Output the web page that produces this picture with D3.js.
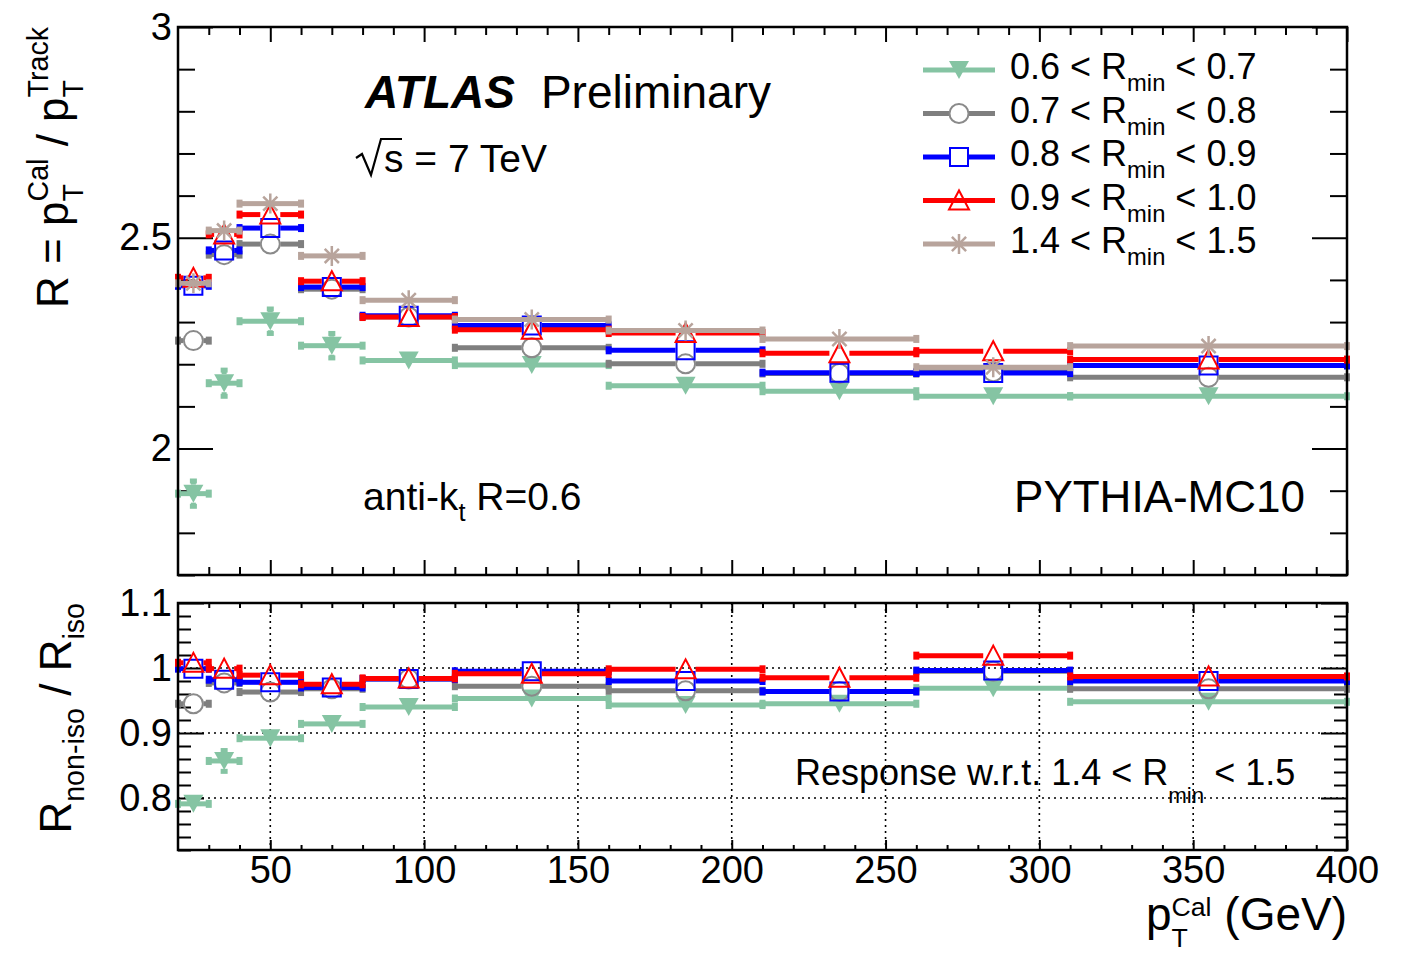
<!DOCTYPE html>
<html>
<head>
<meta charset="utf-8">
<script src="https://cdn.jsdelivr.net/npm/d3@7"></script>
<style>
  body { margin: 0; background: #fff; }
  svg { display: block; }
  text { font-family: "Liberation Sans", Arial, Helvetica, sans-serif; fill: #000; white-space: pre; }
</style>
</head>
<body>
<svg id="chart" width="1408" height="953"></svg>
<script>
// ---- binning in calorimeter jet pT (GeV) ----
const binEdges   = [20, 30, 40, 60, 80, 110, 160, 210, 260, 310, 400];
const binCentres = [25, 35, 50, 70, 95, 135, 185, 235, 285, 355];

// ---- isolation classes (R_min ranges) ----
const rminLow  = ["0.6", "0.7", "0.8", "0.9", "1.4"];
const rminHigh = ["0.7", "0.8", "0.9", "1.0", "1.5"];

// ---- response R = pT(Cal)/pT(Track), one list per isolation class ----
const respR06 = [1.893, 2.155, 2.302, 2.244, 2.209, 2.198, 2.149, 2.136, 2.124, 2.124];
const respR07 = [2.256, 2.460, 2.485, 2.378, 2.312, 2.239, 2.201, 2.178, 2.182, 2.169];
const respR08 = [2.386, 2.470, 2.523, 2.383, 2.315, 2.292, 2.233, 2.180, 2.179, 2.197];
const respR09 = [2.405, 2.508, 2.555, 2.397, 2.312, 2.282, 2.274, 2.226, 2.231, 2.211];
const respR14 = [2.392, 2.517, 2.581, 2.457, 2.352, 2.306, 2.280, 2.260, 2.193, 2.243];

// statistical uncertainties on the response
const respErrR06 = [0.030, 0.031, 0.029, 0.029, 0.020, 0.016, 0.016, 0.016, 0.016, 0.016];
const respErrR07 = [0.018, 0.016, 0.015, 0.014, 0.012, 0.010, 0.010, 0.010, 0.010, 0.010];
const respErrR08 = [0.016, 0.015, 0.014, 0.013, 0.011, 0.009, 0.009, 0.009, 0.009, 0.009];
const respErrR09 = [0.016, 0.015, 0.014, 0.013, 0.011, 0.009, 0.009, 0.009, 0.009, 0.009];
const respErrR14 = [0.016, 0.015, 0.014, 0.013, 0.011, 0.009, 0.009, 0.009, 0.009, 0.009];

// ---- ratio R(non-iso)/R(iso), with 1.4 < R_min < 1.5 as reference ----
const ratioR06 = [0.791, 0.857, 0.892, 0.914, 0.940, 0.953, 0.943, 0.945, 0.969, 0.948];
const ratioR07 = [0.945, 0.977, 0.963, 0.968, 0.983, 0.972, 0.965, 0.964, 0.995, 0.968];
const ratioR08 = [0.999, 0.982, 0.978, 0.970, 0.983, 0.995, 0.980, 0.964, 0.996, 0.980];
const ratioR09 = [1.008, 0.999, 0.989, 0.975, 0.984, 0.991, 0.998, 0.985, 1.019, 0.987];

const ratioErrR06 = [0.012, 0.016, 0.012, 0.010, 0.008, 0.006, 0.006, 0.006, 0.006, 0.006];
const ratioErrR07 = [0.010, 0.008, 0.008, 0.007, 0.006, 0.005, 0.005, 0.005, 0.005, 0.005];
const ratioErrR08 = [0.010, 0.008, 0.008, 0.007, 0.006, 0.005, 0.005, 0.005, 0.005, 0.005];
const ratioErrR09 = [0.010, 0.008, 0.008, 0.007, 0.006, 0.005, 0.005, 0.005, 0.005, 0.005];

// ---- axis ticks ----
const xMajorTicks    = [50, 100, 150, 200, 250, 300, 350, 400];
const yTopMajorTicks = [2, 2.5, 3];
const yBotMajorTicks = [0.8, 0.9, 1, 1.1];
const yBotGridLines  = [0.8, 0.9, 1];
const xGridLines     = [50, 100, 150, 200, 250, 300, 350];

// ---- styles per isolation class ----
const seriesColour = ["#85c4a3", "#7f7f7f", "#0000ff", "#ff0000", "#b8a49c"];
const markerColour = ["#85c4a3", "#8a8a8a", "#0000ff", "#ff0000", "#b8a49c"];
const markerKind   = ["triDown", "circle", "square", "triUp", "star"];

const svg = d3.select("#chart");

// frame geometry
const X0 = 178, X1 = 1347;
const panelTop = { y0: 27, y1: 575 };
const panelBot = { y0: 603, y1: 850 };

const x = d3.scaleLinear().domain([20, 400]).range([X0, X1]);
const yTop = d3.scaleLinear().domain([1.7, 3]).range([panelTop.y1, panelTop.y0]);
const yBot = d3.scaleLinear().domain([0.72, 1.1]).range([panelBot.y1, panelBot.y0]);

const minorX = d3.range(3, 40).map(d => d * 10).filter(d => !xMajorTicks.includes(d));
const minorYTop = d3.range(17, 30).map(d => d / 10).filter(d => !yTopMajorTicks.some(m => Math.abs(m - d) < 1e-9));
const minorYBot = d3.range(36, 55).map(d => d / 50).filter(d => !yBotMajorTicks.some(m => Math.abs(m - d) < 1e-9));

function styleAxis(g, withLabels) {
  g.attr("font-size", null).attr("font-family", null);
  g.select(".domain").remove();
  g.selectAll(".tick line").attr("stroke", "#000").attr("stroke-width", 2);
  if (withLabels) g.selectAll(".tick text").style("font-size", "38px");
}

function drawAxes(panel, yScale, yMajor, yMinor, o) {
  const g = svg.append("g");
  // bottom x
  g.append("g").attr("transform", `translate(0,${panel.y1})`)
    .call(d3.axisBottom(x).tickValues(xMajorTicks).tickSize(-o.xMaj).tickPadding(6)
      .tickFormat(o.xLabels ? d => String(d) : ""))
    .call(s => styleAxis(s, o.xLabels));
  g.append("g").attr("transform", `translate(0,${panel.y1})`)
    .call(d3.axisBottom(x).tickValues(minorX).tickSize(-o.xMin).tickFormat(""))
    .call(s => styleAxis(s, false));
  // top x (mirror)
  g.append("g").attr("transform", `translate(0,${panel.y0})`)
    .call(d3.axisTop(x).tickValues(xMajorTicks).tickSize(-o.xMaj).tickFormat(""))
    .call(s => styleAxis(s, false));
  g.append("g").attr("transform", `translate(0,${panel.y0})`)
    .call(d3.axisTop(x).tickValues(minorX).tickSize(-o.xMin).tickFormat(""))
    .call(s => styleAxis(s, false));
  // left y
  g.append("g").attr("transform", `translate(${X0},0)`)
    .call(d3.axisLeft(yScale).tickValues(yMajor).tickSize(-o.yMaj).tickPadding(6).tickFormat(d => String(d)))
    .call(s => styleAxis(s, true));
  g.append("g").attr("transform", `translate(${X0},0)`)
    .call(d3.axisLeft(yScale).tickValues(yMinor).tickSize(-o.yMin).tickFormat(""))
    .call(s => styleAxis(s, false));
  // right y (mirror)
  g.append("g").attr("transform", `translate(${X1},0)`)
    .call(d3.axisRight(yScale).tickValues(yMajor).tickSize(-o.yMaj).tickFormat(""))
    .call(s => styleAxis(s, false));
  g.append("g").attr("transform", `translate(${X1},0)`)
    .call(d3.axisRight(yScale).tickValues(yMinor).tickSize(-o.yMin).tickFormat(""))
    .call(s => styleAxis(s, false));
}

function markerPath(kind) {
  switch (kind) {
    case "triDown": return "M-10,-9L10,-9L0,9Z";
    case "triUp":   return "M-10,9L10,9L0,-10Z";
    case "square":  return "M-9,-9H9V9H-9Z";
    case "circle":  return "M9.5,0A9.5,9.5 0 1,1 -9.5,0A9.5,9.5 0 1,1 9.5,0Z";
    case "star":    return "M-10,0H10M0,-10V10M-7.1,-7.1L7.1,7.1M-7.1,7.1L7.1,-7.1";
  }
}

function drawMarker(g, kind, colour, cx, cy) {
  const p = g.append("path").attr("d", markerPath(kind)).attr("transform", `translate(${cx},${cy})`);
  if (kind === "triDown") p.attr("fill", colour).attr("stroke", "none");
  else p.attr("fill", "none").attr("stroke", colour).attr("stroke-width", kind === "star" ? 2.5 : 2);
}

function drawSeries(g, yScale, vals, errs, k) {
  const col = seriesColour[k];
  const kind = markerKind[k];
  const gapH = kind === "star" || kind === "triDown" ? 0 : 10;
  const gapV = 9;
  vals.forEach((v, i) => {
    const xa = x(binEdges[i]), xb = x(binEdges[i + 1]), xc = x(binCentres[i]);
    const yc = yScale(v);
    // horizontal bin-width bar, interrupted around the marker
    [[xa, xc - gapH], [xc + gapH, xb]].forEach(([p, q]) => {
      if (q > p) g.append("line").attr("x1", p).attr("x2", q).attr("y1", yc).attr("y2", yc)
        .attr("stroke", col).attr("stroke-width", 5);
    });
    [xa, xb].forEach(ex => g.append("rect").attr("x", ex - 3).attr("y", yc - 4).attr("width", 6).attr("height", 8).attr("fill", col));
    // vertical uncertainty outside the marker
    const dy = yScale(v - errs[i]) - yc;
    if (dy > gapV) {
      [[yc + gapV, yc + dy], [yc - gapV, yc - dy]].forEach(([p, q]) => {
        g.append("line").attr("x1", xc).attr("x2", xc).attr("y1", p).attr("y2", q)
          .attr("stroke", col).attr("stroke-width", 5);
        g.append("rect").attr("x", xc - 3.5).attr("y", q - 2.5).attr("width", 7).attr("height", 5).attr("fill", col);
      });
    }
    drawMarker(g, kind, markerColour[k], xc, yc);
  });
}

// Text laid out piece by piece: plain runs, subscripts and stacked sub/superscripts
function rich(parent, parts, size, anchor, st) {
  const o = Object.assign({ scale: 0.65, sub: 0.33, sup: 0.45 }, st || {});
  const g = parent.append("g");
  let cx = 0;
  parts.forEach(p => {
    if (p.stack) {
      const s = size * o.scale;
      const a = g.append("text").attr("x", cx).attr("y", size * o.sub).style("font-size", s + "px").text(p.sub);
      const b = g.append("text").attr("x", cx).attr("y", -size * o.sup).style("font-size", s + "px").text(p.sup);
      cx += Math.max(a.node().getComputedTextLength(), b.node().getComputedTextLength());
    } else {
      const fs = p.scale ? size * p.scale : size;
      const t = g.append("text").attr("x", cx).attr("y", p.dy ? p.dy : 0)
        .style("font-size", fs + "px").text(p.t);
      if (p.bold) t.style("font-weight", "bold");
      if (p.italic) t.style("font-style", "italic");
      cx += t.node().getComputedTextLength() + (p.after || 0);
    }
  });
  if (anchor === "end") g.selectAll("text").attr("x", function () { return +d3.select(this).attr("x") - cx; });
  return g;
}

// ---- upper panel: response ----
drawAxes(panelTop, yTop, yTopMajorTicks, minorYTop, { xMaj: 15, xMin: 8, yMaj: 35, yMin: 17, xLabels: false });

const gTop = svg.append("g");
const respSeries = [respR06, respR07, respR08, respR09, respR14];
const respErrs = [respErrR06, respErrR07, respErrR08, respErrR09, respErrR14];
respSeries.forEach((vals, k) => drawSeries(gTop, yTop, vals, respErrs[k], k));

// ---- lower panel: ratio to the isolated class ----
const gGrid = svg.append("g").attr("stroke", "#000").attr("stroke-width", 1.6).attr("stroke-dasharray", "2,4");
xGridLines.forEach(v => gGrid.append("line").attr("x1", x(v)).attr("x2", x(v)).attr("y1", panelBot.y0).attr("y2", panelBot.y1));
yBotGridLines.forEach(v => gGrid.append("line").attr("x1", X0).attr("x2", X1).attr("y1", yBot(v)).attr("y2", yBot(v)));

drawAxes(panelBot, yBot, yBotMajorTicks, minorYBot, { xMaj: 10, xMin: 5, yMaj: 26, yMin: 13, xLabels: true });

const gBot = svg.append("g");
const ratioSeries = [ratioR06, ratioR07, ratioR08, ratioR09];
const ratioErrs = [ratioErrR06, ratioErrR07, ratioErrR08, ratioErrR09];
ratioSeries.forEach((vals, k) => drawSeries(gBot, yBot, vals, ratioErrs[k], k));

// frames
[panelTop, panelBot].forEach(p => svg.append("rect").attr("x", X0).attr("y", p.y0).attr("width", X1 - X0).attr("height", p.y1 - p.y0)
  .attr("fill", "none").attr("stroke", "#000").attr("stroke-width", 2.5));

// ---- axis titles ----
rich(svg.append("g").attr("transform", `translate(68,${panelTop.y0}) rotate(-90)`),
  [{ t: "R = p" }, { stack: true, sub: "T", sup: "Cal" }, { t: " / p" }, { stack: true, sub: "T", sup: "Track" }], 44, "end");

rich(svg.append("g").attr("transform", `translate(71,${panelBot.y0}) rotate(-90)`),
  [{ t: "R" }, { t: "non-iso", scale: 0.65, dy: 13 }, { t: " / R" }, { t: "iso", scale: 0.65, dy: 13 }], 44, "end");

rich(svg.append("g").attr("transform", `translate(${X1},930)`),
  [{ t: "p" }, { stack: true, sub: "T", sup: "Cal" }, { t: " (GeV)" }], 46, "end",
  { scale: 0.58, sub: 0.36, sup: 0.30 });

// ---- labels ----
rich(svg.append("g").attr("transform", "translate(365,108)"),
  [{ t: "ATLAS", bold: true, italic: true, after: 26 }, { t: "Preliminary" }], 46);

svg.append("path").attr("d", "M356,158L362,154L371,175L381,139H402")
  .attr("fill", "none").attr("stroke", "#000").attr("stroke-width", 2.2);
svg.append("text").attr("x", 384).attr("y", 172).style("font-size", "39px").text("s = 7 TeV");

rich(svg.append("g").attr("transform", "translate(363,510)"),
  [{ t: "anti-k" }, { t: "t", scale: 0.65, dy: 11 }, { t: " R=0.6" }], 39);

svg.append("text").attr("x", 1305).attr("y", 512).attr("text-anchor", "end").style("font-size", "44px").text("PYTHIA-MC10");

rich(svg.append("g").attr("transform", "translate(795,785)"),
  [{ t: "Response w.r.t. 1.4 < R" }, { t: "min", scale: 0.62, dy: 18 }, { t: " < 1.5" }], 36);

// ---- legend ----
const gLeg = svg.append("g");
rminLow.forEach((lo, k) => {
  const ly = 70 + 43.5 * k;
  const lx0 = 923, lx1 = 995, lc = 959;
  const gap = markerKind[k] === "circle" || markerKind[k] === "square" ? 10 : 0;
  [[lx0, lc - gap], [lc + gap, lx1]].forEach(([p, q]) => gLeg.append("line")
    .attr("x1", p).attr("x2", q).attr("y1", ly).attr("y2", ly).attr("stroke", seriesColour[k]).attr("stroke-width", 5));
  drawMarker(gLeg, markerKind[k], markerColour[k], lc, ly);
  rich(gLeg.append("g").attr("transform", `translate(1010,${ly + 9})`),
    [{ t: lo + " < R" }, { t: "min", scale: 0.66, dy: 12 }, { t: " < " + rminHigh[k] }], 36);
});
</script>
</body>
</html>
